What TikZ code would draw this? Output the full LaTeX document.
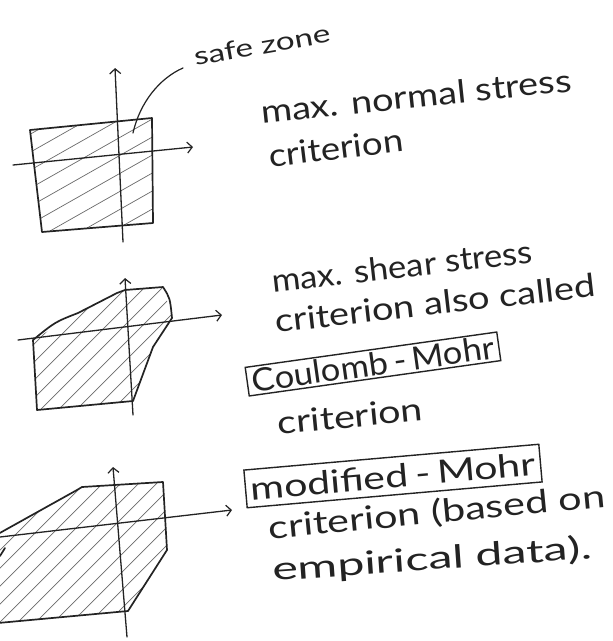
\documentclass[tikz,border=0pt]{standalone}
\usepackage{fontspec}
\usepackage{graphicx}
\setmainfont{Lato}
\usetikzlibrary{arrows.meta}
\definecolor{ink}{HTML}{232323}
\definecolor{hatchc}{HTML}{6A6A6A}
\newcommand{\hwtext}[2]{\resizebox{#1}{\height}{#2}}
\begin{document}
\begin{tikzpicture}[x=1pt,y=-1pt,
  outline/.style={draw=ink, line width=1.7pt, line cap=round, line join=round},
  axis/.style={draw=ink, line width=1.3pt, line cap=round, -{Straight Barb[length=5pt,width=11pt,line width=1.2pt]}},
  hatchline/.style={draw=hatchc, line width=0.7pt},
  leader/.style={draw=ink, line width=1.2pt, line cap=round},
  txt/.style={font=\fontsize{32}{36}\selectfont, text=ink, inner sep=0pt},
  boxed/.style={txt, draw=ink, line width=1.4pt, inner xsep=5pt}]
\fill[white] (0,0) rectangle (613,641);
\useasboundingbox (0,0) rectangle (613,641);

% ---------- diagram 1: max normal stress ----------
\coordinate (a1) at (30,130);
\coordinate (b1) at (152,118);
\coordinate (c1) at (153,223);
\coordinate (d1) at (42,232);
\begin{scope}
  \clip (a1) -- (b1) -- (c1) -- (d1) -- cycle;
  \foreach \c in {140,158,...,320} \draw[hatchline] (20,\c) -- (170,\c-85);
\end{scope}
\draw[outline] (a1) -- (b1) -- (c1) -- (d1) -- cycle;
\coordinate (v1s) at (123,242);
\coordinate (v1e) at (115,68);
\coordinate (h1s) at (13,165);
\coordinate (h1e) at (193,147);
\draw[axis] (v1s) -- (v1e);
\draw[axis] (h1s) -- (h1e);
\coordinate (sz1) at (133,133);
\coordinate (sz2) at (183,68);
\draw[leader] (sz1) .. controls (140,102) and (160,78) .. (sz2);
\node[txt, font=\fontsize{25}{28}\selectfont, rotate=10] (safe) at (262,45) {\hwtext{138pt}{safe zone}};

\node[txt, rotate=6] (t1a) at (416,96) {\hwtext{312pt}{max. normal stress}};
\node[txt, rotate=7] (t1b) at (336,148) {\hwtext{135pt}{criterion}};

% ---------- diagram 2: max shear stress ----------
\coordinate (p1) at (33,340);
\coordinate (p2) at (78,313);
\coordinate (p3) at (117,293);
\coordinate (p4) at (125,290);
\coordinate (p5) at (163,287);
\coordinate (p6) at (172,318);
\coordinate (p7) at (153,347);
\coordinate (p8) at (133,401);
\coordinate (p9) at (37,410);
\begin{scope}
  \clip (p1) -- (p2) -- (p3) -- (p4) -- (p5) -- (p6) -- (p7) -- (p8) -- (p9) -- cycle;
  \foreach \c in {0,18,...,340} \draw[hatchline] (\c-150,420) -- (\c+20,250);
\end{scope}
\draw[outline] (p1) .. controls (55,322) .. (p2) -- (p3) -- (p4) -- (p5) .. controls (170,298) .. (p6) -- (p7) -- (p8) -- (p9) -- (p1);
\coordinate (v2s) at (133,415);
\coordinate (v2e) at (125,278);
\coordinate (h2s) at (18,340);
\coordinate (h2e) at (222,315);
\draw[axis] (v2s) -- (v2e);
\draw[axis] (h2s) -- (h2e);

\node[txt, rotate=6.5] (t2a) at (402,266) {\hwtext{262pt}{max. shear stress}};
\node[txt, rotate=6.5] (t2b) at (435,303) {\hwtext{322pt}{criterion also called}};
\node[boxed, inner ysep=2.5pt, rotate=8] (cm) at (373,364) {\hwtext{244pt}{Coulomb\,-\,Mohr}};
\node[txt, rotate=5.5] (t2c) at (350,416) {\hwtext{146pt}{criterion}};

% ---------- diagram 3: modified Mohr ----------
\coordinate (q1) at (-2,534);
\coordinate (q2) at (77,490);
\coordinate (q3) at (82,487);
\coordinate (q4) at (163,482);
\coordinate (q5) at (167,550);
\coordinate (q6) at (128,611);
\coordinate (q7) at (-2,623);
\begin{scope}
  \clip (q1) -- (q2) -- (q3) -- (q4) -- (q5) -- (q6) -- (q7) -- cycle;
  \foreach \c in {0,18,...,360} \draw[hatchline] (\c-180,640) -- (\c+20,440);
\end{scope}
\draw[outline] (q1) -- (q2) -- (q3) -- (q4) -- (q5) -- (q6) -- (q7);
\coordinate (m1) at (0,556);
\coordinate (m2) at (5,548);
\draw[outline] (m1) -- (m2);
\coordinate (v3s) at (127,637);
\coordinate (v3e) at (113,467);
\coordinate (h3s) at (0,537);
\coordinate (h3e) at (232,510);
\draw[axis] (v3s) -- (v3e);
\draw[axis] (h3s) -- (h3e);

\node[boxed, inner ysep=7pt, rotate=5] (mm) at (393,476) {\hwtext{286pt}{modified\,-\,Mohr}};
\node[txt, rotate=5.5] (t3a) at (437,513) {\hwtext{338pt}{criterion (based on}};
\node[txt, rotate=4] (t3b) at (432,560) {\hwtext{320pt}{empirical data).}};
\end{tikzpicture}
\end{document}
